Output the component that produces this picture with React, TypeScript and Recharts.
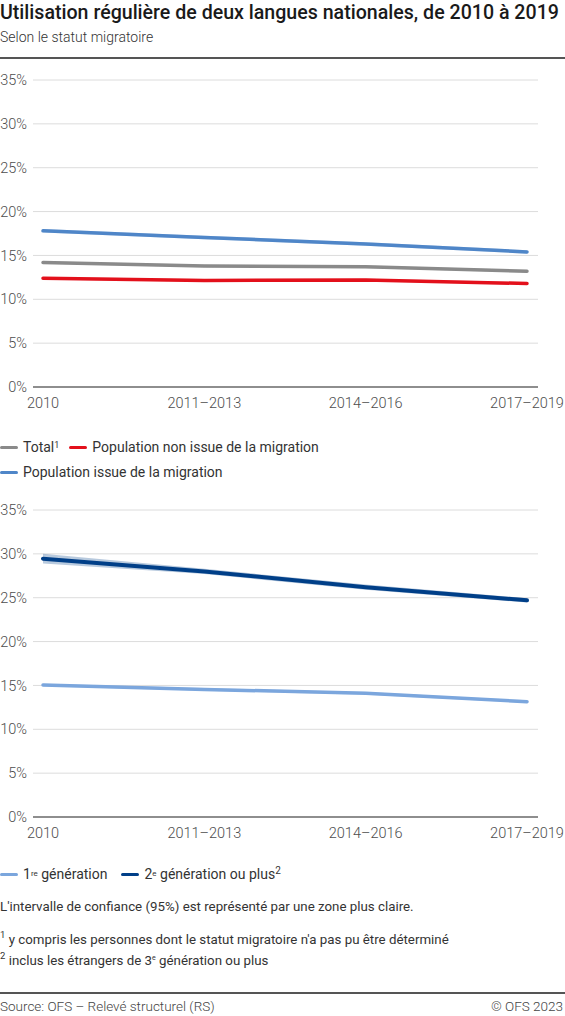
import React from 'react';
import { ComposedChart, Line, Area, XAxis, YAxis, CartesianGrid } from 'recharts';

const categories = ['2010', '2011–2013', '2014–2016', '2017–2019'];
const yTicks = [0, 5, 10, 15, 20, 25, 30, 35];

// top chart
const total = [14.2, 13.8, 13.7, 13.2];
const totalLow = [14.05, 13.65, 13.55, 13.05];
const totalHigh = [14.35, 13.95, 13.85, 13.35];
const nonMigr = [12.4, 12.15, 12.2, 11.8];
const nonMigrLow = [12.25, 12.0, 12.05, 11.65];
const nonMigrHigh = [12.55, 12.3, 12.35, 11.95];
const migr = [17.8, 17.05, 16.3, 15.4];
const migrLow = [17.6, 16.85, 16.1, 15.2];
const migrHigh = [18.0, 17.25, 16.5, 15.6];

// bottom chart
const gen1 = [15.05, 14.55, 14.1, 13.15];
const gen1Low = [14.9, 14.4, 13.95, 13.0];
const gen1High = [15.2, 14.7, 14.25, 13.3];
const gen2 = [29.45, 28.0, 26.2, 24.7];
const gen2Low = [28.9, 27.7, 25.9, 24.45];
const gen2High = [30.0, 28.3, 26.5, 24.95];

const topData = categories.map((c, i) => ({
  cat: c,
  total: total[i],
  totalCi: [totalLow[i], totalHigh[i]],
  nonMigr: nonMigr[i],
  nonMigrCi: [nonMigrLow[i], nonMigrHigh[i]],
  migr: migr[i],
  migrCi: [migrLow[i], migrHigh[i]],
}));

const bottomData = categories.map((c, i) => ({
  cat: c,
  gen1: gen1[i],
  gen1Ci: [gen1Low[i], gen1High[i]],
  gen2: gen2[i],
  gen2Ci: [gen2Low[i], gen2High[i]],
}));

const GRAY = '#8a8a8a';
const RED = '#e3101b';
const BLUE = '#4f86c8';
const LIGHT_BLUE = '#7ba6dd';
const DARK_BLUE = '#003f88';

const FONT = 'Roboto, "Noto Sans", sans-serif';
const TEXT = '#333';

const tickStyle = { fontSize: 14.5, fontWeight: 300, fill: '#4d4d4d', fontFamily: FONT };

function renderChart(data: any[], series: { key: string; color: string; width: number; ciOpacity: number }[]) {
  return (
    <ComposedChart width={565} height={357} data={data} margin={{ top: 20, right: 27, bottom: 0, left: 0 }}>
      <CartesianGrid vertical={false} stroke="#dcdcdc" strokeWidth={1} />
      <XAxis
        dataKey="cat"
        scale="point"
        padding={{ left: 10, right: 11 }}
        axisLine={{ stroke: '#6e6e6e', strokeWidth: 1.5 }}
        tickLine={false}
        tickMargin={5}
        height={30}
        tick={tickStyle}
        interval={0}
      />
      <YAxis
        domain={[0, 35]}
        ticks={yTicks}
        width={33}
        axisLine={false}
        tickLine={false}
        tickMargin={0}
        tick={tickStyle}
        tickFormatter={(v) => `${v}%`}
      />
      {series.map((s) => (
        <Area
          key={s.key + 'Ci'}
          dataKey={s.key + 'Ci'}
          type="linear"
          stroke="none"
          fill={s.color}
          fillOpacity={s.ciOpacity}
          isAnimationActive={false}
        />
      ))}
      {series.map((s) => (
        <Line
          key={s.key}
          dataKey={s.key}
          type="linear"
          stroke={s.color}
          strokeWidth={s.width}
          strokeLinecap="round"
          dot={false}
          activeDot={false}
          isAnimationActive={false}
        />
      ))}
    </ComposedChart>
  );
}

function Swatch({ color }: { color: string }) {
  return (
    <span
      style={{
        display: 'inline-block',
        width: 18,
        height: 3.5,
        borderRadius: 2,
        background: color,
        verticalAlign: 'middle',
        marginRight: 5,
        position: 'relative',
        top: -1,
      }}
    />
  );
}

const noteStyle: React.CSSProperties = { position: 'absolute', left: 0, fontSize: 13.3, color: TEXT, whiteSpace: 'nowrap' };

export default function App() {
  return (
    <div
      style={{
        position: 'absolute',
        left: 0,
        top: 0,
        width: 565,
        height: 1016,
        background: '#fff',
        fontFamily: FONT,
        color: TEXT,
        overflow: 'hidden',
      }}
    >
      <div style={{ position: 'absolute', left: 0, top: 1, fontSize: 19.6, fontWeight: 500, color: '#1a1a1a', whiteSpace: 'nowrap' }}>
        Utilisation régulière de deux langues nationales, de 2010 à 2019
      </div>
      <div style={{ position: 'absolute', left: 0, top: 29, fontSize: 14, fontWeight: 300, color: '#333', whiteSpace: 'nowrap' }}>
        Selon le statut migratoire
      </div>
      <div style={{ position: 'absolute', left: 0, top: 57, width: 565, height: 1.5, background: '#555' }} />

      <div style={{ position: 'absolute', left: 0, top: 60 }}>
        {renderChart(topData, [
          { key: 'total', color: GRAY, width: 3.5, ciOpacity: 0.25 },
          { key: 'nonMigr', color: RED, width: 3.5, ciOpacity: 0.25 },
          { key: 'migr', color: BLUE, width: 3.5, ciOpacity: 0.25 },
        ])}
      </div>

      <div style={{ position: 'absolute', left: 0, top: 437, fontSize: 14, color: TEXT, whiteSpace: 'nowrap', lineHeight: '20px' }}>
        <Swatch color={GRAY} />
        Total<sup style={{ fontSize: 9, verticalAlign: 'top', position: 'relative', top: -2 }}>1</sup>
        <span style={{ marginLeft: 10 }} />
        <Swatch color={RED} />
        Population non issue de la migration
      </div>
      <div style={{ position: 'absolute', left: 0, top: 462, fontSize: 14, color: TEXT, whiteSpace: 'nowrap', lineHeight: '20px' }}>
        <Swatch color={BLUE} />
        Population issue de la migration
      </div>

      <div style={{ position: 'absolute', left: 0, top: 490 }}>
        {renderChart(bottomData, [
          { key: 'gen1', color: LIGHT_BLUE, width: 3.5, ciOpacity: 0.3 },
          { key: 'gen2', color: DARK_BLUE, width: 4, ciOpacity: 0.28 },
        ])}
      </div>

      <div style={{ position: 'absolute', left: 0, top: 864, fontSize: 14, color: TEXT, whiteSpace: 'nowrap', lineHeight: '20px' }}>
        <Swatch color={LIGHT_BLUE} />
        1<sup style={{ fontSize: 8, verticalAlign: 'top', position: 'relative', top: 0 }}>re</sup> génération
        <span style={{ marginLeft: 14 }} />
        <Swatch color={DARK_BLUE} />
        2<sup style={{ fontSize: 8, verticalAlign: 'top', position: 'relative', top: 0 }}>e</sup> génération ou plus
        <sup style={{ fontSize: 10, verticalAlign: 'top', position: 'relative', top: -3 }}>2</sup>
      </div>

      <div style={{ ...noteStyle, top: 899 }}>
        L'intervalle de confiance (95%) est représenté par une zone plus claire.
      </div>
      <div style={{ ...noteStyle, top: 932 }}>
        <sup style={{ fontSize: 9.5, verticalAlign: 'top', position: 'relative', top: -3 }}>1</sup> y compris les personnes dont le statut migratoire n'a pas pu être déterminé
      </div>
      <div style={{ ...noteStyle, top: 953 }}>
        <sup style={{ fontSize: 9.5, verticalAlign: 'top', position: 'relative', top: -3 }}>2</sup> inclus les étrangers de 3<sup style={{ fontSize: 7, verticalAlign: 'top', position: 'relative', top: 1 }}>e</sup> génération ou plus
      </div>

      <div style={{ position: 'absolute', left: 0, top: 992, width: 565, height: 1.5, background: '#555' }} />
      <div style={{ position: 'absolute', left: 0, top: 998, fontSize: 13.5, fontWeight: 300, color: '#444', whiteSpace: 'nowrap' }}>
        Source: OFS – Relevé structurel (RS)
      </div>
      <div style={{ position: 'absolute', right: 2, top: 998, fontSize: 13.5, fontWeight: 300, color: '#444', whiteSpace: 'nowrap' }}>
        © OFS 2023
      </div>
    </div>
  );
}
